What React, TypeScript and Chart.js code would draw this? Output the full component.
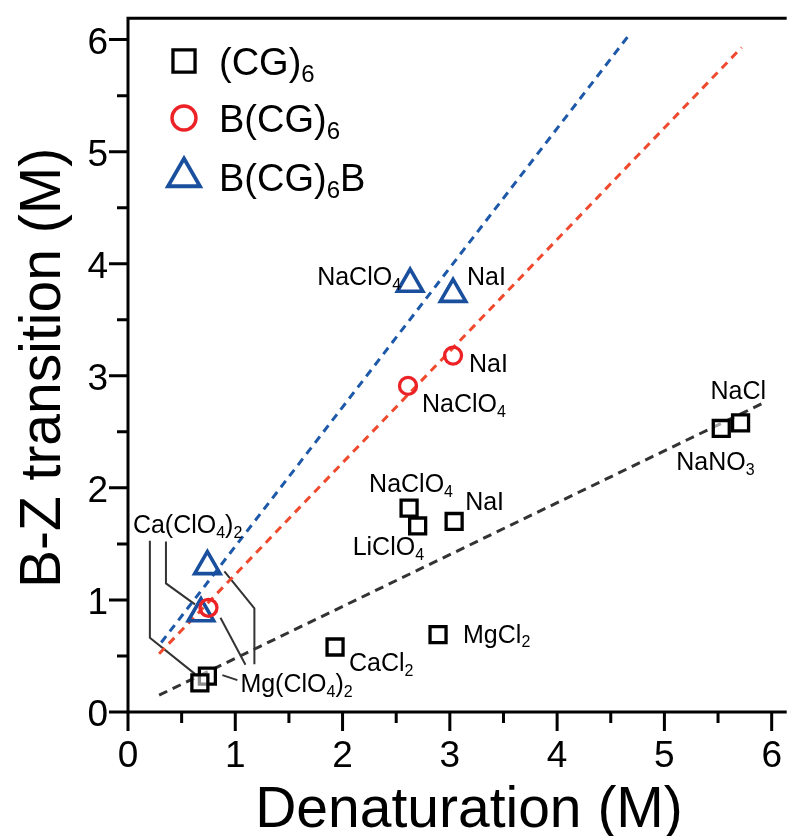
import { useEffect, useRef } from 'react';
import { Chart, registerables } from 'chart.js';

Chart.register(...registerables);

const FONT = "'Liberation Sans', Arial, Helvetica, sans-serif";

// (CG)6 — denaturation vs. B-Z transition salt concentration (M)
const cgNames = ['Mg(ClO_4)_2', 'Ca(ClO_4)_2', 'CaCl_2', 'MgCl_2', 'NaClO_4', 'LiClO_4', 'NaI', 'NaNO_3', 'NaCl'];
const cgDenat = [0.74, 0.67, 1.93, 2.89, 2.62, 2.70, 3.04, 5.53, 5.71];
const cgBZ = [0.32, 0.26, 0.58, 0.69, 1.82, 1.66, 1.70, 2.53, 2.58];

// B(CG)6
const bcgNames = ['Mg(ClO_4)_2', 'NaClO_4', 'NaI'];
const bcgDenat = [0.75, 2.61, 3.03];
const bcgBZ = [0.93, 2.91, 3.18];

// B(CG)6B
const bcgbNames = ['Ca(ClO_4)_2', 'Mg(ClO_4)_2', 'NaClO_4', 'NaI'];
const bcgbDenat = [0.68, 0.74, 2.63, 3.03];
const bcgbBZ = [0.88, 1.30, 3.82, 3.73];

// linear trend lines (end points)
const fitCGx = [0.29, 5.95];
const fitCGy = [0.15, 2.77];
const fitBCGx = [0.29, 5.72];
const fitBCGy = [0.52, 5.93];
const fitBCGBx = [0.31, 4.67];
const fitBCGBy = [0.62, 6.04];

// axes
const xMin = 0;
const xMax = 6.14;
const yMin = 0;
const yMax = 6.19;
const xTickValues = [0, 1, 2, 3, 4, 5, 6];
const yTickValues = [0, 1, 2, 3, 4, 5, 6];
const xTitle = 'Denaturation (M)';
const yTitle = 'B-Z transition (M)';
const legendLabels = ['(CG)_6', 'B(CG)_6', 'B(CG)_6B'];

const BLACK = '#000000';
const RED = '#ec2227';
const RED_LINE = '#f04a2e';
const BLUE = '#1a4f9e';
const BLUE_LINE = '#1d59a8';

const setNames = [cgNames, bcgNames, bcgbNames];

// text placed next to marks: dataset, index, pixel offset of the text start/baseline
const markLabels = [
  { set: 0, idx: 4, dx: -40, dy: -16 },
  { set: 0, idx: 5, dx: -65, dy: 29 },
  { set: 0, idx: 6, dx: 11, dy: -11 },
  { set: 0, idx: 2, dx: 14, dy: 24 },
  { set: 0, idx: 3, dx: 25, dy: 8 },
  { set: 0, idx: 8, dx: -30, dy: -24 },
  { set: 0, idx: 7, dx: -45, dy: 42 },
  { set: 1, idx: 2, dx: 16, dy: 16 },
  { set: 1, idx: 1, dx: 14, dy: 26 },
  { set: 2, idx: 2, dx: -93, dy: 1 },
  { set: 2, idx: 3, dx: 14, dy: -9 },
  { set: 0, idx: 1, dx: -67, dy: -150 },
  { set: 0, idx: 0, dx: 33, dy: 16 },
];

// leader lines from the perchlorate labels to their marks
const leaders = [
  { set: 0, idx: 1, path: [[-50, -142], [-50, -45], [-5, -9]] },
  { set: 2, idx: 0, path: [[-35, -72], [-35, -30], [-6, -9]] },
  { set: 0, idx: 0, path: [[30, 4], [15, -1]] },
  { set: 1, idx: 0, path: [[37, 57], [12, 10]] },
  { set: 2, idx: 1, path: [[47, 98], [47, 42], [17, 5]] },
];

const pts = (xs: number[], ys: number[]) => xs.map((x, i) => ({ x, y: ys[i] }));

type Seg = { t: string; sub: boolean };
function parseRich(str: string): Seg[] {
  const segs: Seg[] = [];
  let buf = '';
  let i = 0;
  while (i < str.length) {
    if (str[i] === '_') {
      if (buf) segs.push({ t: buf, sub: false });
      buf = '';
      i++;
      let s = '';
      while (i < str.length && /[0-9]/.test(str[i])) {
        s += str[i];
        i++;
      }
      segs.push({ t: s, sub: true });
    } else {
      buf += str[i];
      i++;
    }
  }
  if (buf) segs.push({ t: buf, sub: false });
  return segs;
}

function drawRich(ctx: CanvasRenderingContext2D, str: string, x: number, y: number, size: number) {
  const segs = parseRich(str);
  const subSize = Math.round(size * 0.64);
  let cx = x;
  ctx.textAlign = 'left';
  ctx.textBaseline = 'alphabetic';
  for (const s of segs) {
    ctx.font = `${s.sub ? subSize : size}px ${FONT}`;
    ctx.fillText(s.t, cx, s.sub ? y + size * 0.19 : y);
    cx += ctx.measureText(s.t).width;
  }
}

function markPixel(chart: any, set: number, idx: number) {
  const el = chart.getDatasetMeta(set).data[idx];
  return { x: el.x, y: el.y };
}

function drawMarker(ctx: CanvasRenderingContext2D, style: string, x: number, y: number, r: number) {
  ctx.beginPath();
  if (style === 'rect') {
    const s = r * Math.SQRT1_2;
    ctx.rect(x - s, y - s, 2 * s, 2 * s);
  } else if (style === 'circle') {
    ctx.arc(x, y, r, 0, Math.PI * 2);
  } else {
    for (let k = 0; k < 3; k++) {
      const a = (k * 2 * Math.PI) / 3;
      const px = x + Math.sin(a) * r;
      const py = y - Math.cos(a) * r;
      if (k === 0) ctx.moveTo(px, py);
      else ctx.lineTo(px, py);
    }
    ctx.closePath();
  }
  ctx.stroke();
}

const decorations = {
  id: 'decorations',
  beforeDatasetsDraw(chart: any) {
    const ctx: CanvasRenderingContext2D = chart.ctx;
    ctx.save();
    ctx.strokeStyle = '#333333';
    ctx.lineWidth = 2;
    ctx.setLineDash([]);
    for (const l of leaders) {
      const p = markPixel(chart, l.set, l.idx);
      ctx.beginPath();
      l.path.forEach(([dx, dy], k) => {
        if (k === 0) ctx.moveTo(p.x + dx, p.y + dy);
        else ctx.lineTo(p.x + dx, p.y + dy);
      });
      ctx.stroke();
    }
    ctx.restore();
  },
  afterDraw(chart: any) {
    const ctx: CanvasRenderingContext2D = chart.ctx;
    const { left, right, top, bottom } = chart.chartArea;
    const xs = chart.scales.x;
    const ys = chart.scales.y;
    ctx.save();
    ctx.setLineDash([]);
    ctx.strokeStyle = BLACK;
    ctx.fillStyle = BLACK;
    ctx.lineWidth = 3;
    ctx.lineCap = 'butt';

    // frame: left axis, bottom axis, top border
    ctx.beginPath();
    ctx.moveTo(left, top);
    ctx.lineTo(right, top);
    ctx.moveTo(left, top - 1.5);
    ctx.lineTo(left, bottom + 1.5);
    ctx.moveTo(left - 1.5, bottom);
    ctx.lineTo(right, bottom);
    ctx.stroke();

    // major and minor ticks
    ctx.beginPath();
    for (let k = 0; k < xTickValues.length; k++) {
      const v = xTickValues[k];
      const px = xs.getPixelForValue(v);
      ctx.moveTo(px, bottom);
      ctx.lineTo(px, bottom + 19);
      if (k < xTickValues.length - 1) {
        const mx = xs.getPixelForValue((v + xTickValues[k + 1]) / 2);
        ctx.moveTo(mx, bottom);
        ctx.lineTo(mx, bottom + 11);
      }
    }
    for (let k = 0; k < yTickValues.length; k++) {
      const v = yTickValues[k];
      const py = ys.getPixelForValue(v);
      ctx.moveTo(left, py);
      ctx.lineTo(left - 19, py);
      if (k < yTickValues.length - 1) {
        const my = ys.getPixelForValue((v + yTickValues[k + 1]) / 2);
        ctx.moveTo(left, my);
        ctx.lineTo(left - 11, my);
      }
    }
    ctx.stroke();

    // tick labels
    ctx.font = `37px ${FONT}`;
    ctx.textBaseline = 'alphabetic';
    ctx.textAlign = 'center';
    for (const v of xTickValues) {
      ctx.fillText(String(v), xs.getPixelForValue(v), bottom + 55);
    }
    ctx.textAlign = 'right';
    for (const v of yTickValues) {
      ctx.fillText(String(v), left - 20, ys.getPixelForValue(v) + 14);
    }

    // axis titles
    ctx.font = `57px ${FONT}`;
    ctx.textAlign = 'center';
    ctx.fillText(xTitle, 469, 827);
    ctx.save();
    ctx.translate(60, 368);
    ctx.rotate(-Math.PI / 2);
    ctx.fillText(yTitle, 0, 0);
    ctx.restore();

    // legend
    const legendStyles = [
      { style: 'rect', color: BLACK, r: 15.6, w: 3.3, y: 61 },
      { style: 'circle', color: RED, r: 12, w: 3.4, y: 118 },
      { style: 'triangle', color: BLUE, r: 18.5, w: 3.8, y: 177 },
    ];
    legendStyles.forEach((s, k) => {
      ctx.strokeStyle = s.color;
      ctx.lineWidth = s.w;
      drawMarker(ctx, s.style, 184, s.y, s.r);
      ctx.fillStyle = BLACK;
      drawRich(ctx, legendLabels[k], 219, s.y + 14, 38);
    });

    // mark labels
    ctx.fillStyle = BLACK;
    for (const m of markLabels) {
      const p = markPixel(chart, m.set, m.idx);
      drawRich(ctx, setNames[m.set][m.idx], p.x + m.dx, p.y + m.dy, 25);
    }
    ctx.restore();
  },
};

export default function App() {
  const ref = useRef<HTMLCanvasElement>(null);

  useEffect(() => {
    if (!ref.current) return;
    const chart = new Chart(ref.current, {
      type: 'scatter',
      data: {
        datasets: [
          {
            label: '(CG)6',
            data: pts(cgDenat, cgBZ),
            pointStyle: 'rect',
            pointRadius: 11.3,
            pointBorderWidth: 3.3,
            pointBorderColor: BLACK,
            pointBackgroundColor: 'rgba(255,255,255,0.55)',
            showLine: false,
            order: 1,
          },
          {
            label: 'B(CG)6',
            data: pts(bcgDenat, bcgBZ),
            pointStyle: 'circle',
            pointRadius: 8.5,
            pointBorderWidth: 3.3,
            pointBorderColor: RED,
            pointBackgroundColor: 'rgba(0,0,0,0)',
            showLine: false,
            order: 1,
          },
          {
            label: 'B(CG)6B',
            data: pts(bcgbDenat, bcgbBZ),
            pointStyle: 'triangle',
            pointRadius: 14.7,
            pointBorderWidth: 3.6,
            pointBorderColor: BLUE,
            pointBackgroundColor: 'rgba(0,0,0,0)',
            showLine: false,
            order: 1,
          },
          {
            label: 'fit (CG)6',
            data: pts(fitCGx, fitCGy),
            showLine: true,
            borderColor: '#333333',
            borderWidth: 3,
            borderDash: [9, 6],
            pointRadius: 0,
            order: 10,
          },
          {
            label: 'fit B(CG)6',
            data: pts(fitBCGx, fitBCGy),
            showLine: true,
            borderColor: RED_LINE,
            borderWidth: 3,
            borderDash: [8, 6],
            pointRadius: 0,
            order: 10,
          },
          {
            label: 'fit B(CG)6B',
            data: pts(fitBCGBx, fitBCGBy),
            showLine: true,
            borderColor: BLUE_LINE,
            borderWidth: 3,
            borderDash: [8, 6],
            pointRadius: 0,
            order: 10,
          },
        ],
      },
      options: {
        responsive: false,
        animation: false,
        devicePixelRatio: 1,
        layout: { padding: { left: 128, top: 10, right: 0, bottom: 124 } },
        scales: {
          x: { type: 'linear', min: xMin, max: xMax, display: false },
          y: { type: 'linear', min: yMin, max: yMax, display: false },
        },
        plugins: {
          legend: { display: false },
          tooltip: { enabled: false },
        },
      },
      plugins: [decorations],
    });
    return () => chart.destroy();
  }, []);

  return (
    <div style={{ position: 'fixed', left: 0, top: 0, width: 805, height: 836, background: '#ffffff' }}>
      <canvas ref={ref} width={805} height={836} style={{ display: 'block' }} />
    </div>
  );
}
